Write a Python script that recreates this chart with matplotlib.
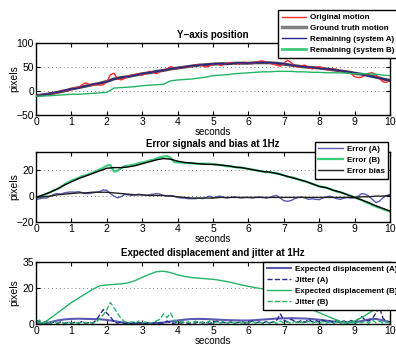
import numpy as np
import matplotlib
matplotlib.use("Agg")
import matplotlib.pyplot as plt

# -------- DATA --------
t_coarse = np.linspace(0, 10, 51)   # 0.2 s samples
t_fine = np.linspace(0, 10, 101)    # 0.1 s samples

# panel 1: Y-axis position
original_motion = [
    -9, -10, -9, -6, -5, -6, -4, 1, 1, 0,
    4, 7, 6, 13, 17, 14, 12, 13, 12, 13,
    19, 34, 37, 26, 23, 26, 31, 33, 34, 36,
    33, 36, 41, 39, 36, 40, 43, 46, 51, 48,
    47, 49, 51, 50, 52, 54, 55, 53, 50, 52,
    57, 58, 53, 55, 59, 58, 58, 56, 59, 60,
    58, 57, 59, 62, 63, 60, 58, 56, 54, 52,
    58, 64, 60, 52, 50, 53, 54, 49, 46, 49,
    51, 48, 45, 44, 46, 45, 41, 40, 41, 36,
    30, 28, 29, 33, 37, 38, 34, 26, 19, 18,
    22,
]
ground_truth = [
    -10, -8, -6, -3, 0, 4, 7, 10, 13, 16,
    20, 25, 28, 30, 33, 36, 38, 41, 43, 46,
    48, 50, 52, 54, 55, 56, 57, 57, 58, 58,
    58, 59, 59, 59, 58, 56, 54, 52, 50, 49,
    48, 46, 44, 42, 40, 37, 35, 32, 29, 25,
    22,
]
remaining_a = [
    -11, -8, -5, -3, 1, 4, 6, 10, 14, 16,
    19, 25, 28, 30, 33, 36, 39, 40, 43, 47,
    48, 50, 53, 54, 55, 57, 57, 56, 58, 59,
    58, 59, 60, 59, 58, 57, 54, 52, 51, 49,
    47, 46, 45, 42, 40, 38, 35, 31, 28, 25,
    21,
]
remaining_b = [
    -11, -10.5, -10, -9, -8, -7, -7, -6, -5, -4,
    -3, 6, 7, 8, 9, 11, 12, 13, 14, 21,
    23, 24, 25, 27, 29, 32, 33, 34, 36, 37,
    38, 39, 40, 40, 41, 41, 41, 40, 40, 39,
    39, 38, 38, 38, 37, 36, 36, 36, 35, 33,
    32,
]

# panel 2: error signals
error_a = [
    -2.7, -2, -1.5, -1.5, 0, 1.3, 2, 1.5, 2.5, 3,
    3.2, 3, 3.5, 2.7, 2, 2, 2.5, 3, 3.5, 4.8,
    4.5, 2, 0, -1.3, -0.5, 1.3, 1, 0.5, 1, 1.5,
    1, 0.5, 1, 1.5, 2, 1.5, 0.5, 0, 0.5, 0,
    -1, -1.5, -1.5, -2, -2, -2, -1.5, -2, -1, 0,
    -1.3, -0.5, 0, -1, -1.5, -1, -0.5, -1, -1.5, -1,
    -1, -1.5, -1, -0.5, -1, -1.5, -1, 0, 0.5, -1.5,
    -3.5, -4, -3.5, -2, -1, -0.5, -1.5, -2.5, -2, -2.5,
    -2.7, -1.5, -0.5, 0, -1, -2, -2.5, -1.5, -1, -1.5,
    -1.3, 0, 1.9, 1.5, 0, -2.5, -5, -4, -1.3, 0.5,
    1.3,
]
error_b = [
    -1.5, -0.5, 0.5, 1.8, 3, 4.5, 5.5, 7, 9, 10.5,
    12, 13, 14, 15.5, 16, 17, 18, 19.5, 20.5, 22,
    23.5, 24, 19, 19.5, 21.5, 23, 23.5, 24, 24.5, 25.5,
    26, 26.5, 27.5, 28, 29, 30, 30.5, 31, 29.5, 26.5,
    26, 26, 25.5, 25.5, 25.5, 25, 25, 25, 25, 25,
    24.5, 24.5, 24, 23.5, 23, 23, 22.5, 22, 22, 21.5,
    21, 20.5, 20, 19.5, 19, 18.5, 18.5, 18, 17.5, 17,
    16, 15, 14.5, 14, 13, 12, 11.5, 10.5, 9.5, 8.5,
    7.5, 7, 6.5, 5.5, 4.5, 3.5, 3, 2, 1, 0,
    -1, -2, -3, -4.5, -5.5, -7, -8, -9, -10, -11,
    -12,
]
bias_a = [
    -1, -0.5, 0, 1, 1.5, 2, 2.5, 2.5, 3, 3,
    3, 2.5, 2, 1.5, 1, 1, 0.5, 0.5, 0.5, 0,
    -0.5, -1, -1.5, -1.5, -1.5, -1.5, -1, -1, -1, -1,
    -1, -1, -1, -1, -1, -1, -1, -1, -1, -1,
    -1, -1, -1, -1, -1, -1, -0.5, -0.5, 0, 0,
    0.5,
]
bias_b = [
    -1, 1, 3, 5.5, 8.5, 11, 13.5, 15.5, 17.5, 19.5,
    21.5, 22, 22, 22.5, 23.5, 25, 26.5, 28, 29, 28.5,
    27, 26, 25.5, 25, 24.5, 24.5, 24, 23.5, 22.5, 22,
    21, 20, 19, 18.5, 17.5, 16, 14.5, 13, 11.5, 9.5,
    7.5, 6.5, 4.5, 3, 1, -1, -3, -5, -7.5, -9.5,
    -11.5,
]

# panel 3: expected displacement and jitter
exp_disp_a = [
    0.5, 0, 0.8, 1.8, 2.4, 2.7, 2.8, 2.7, 2.6, 2.5,
    2.1, 1.5, 0.8, 0.4, 0.1, 0, 0.1, 0.3, 0.6, 1.2,
    1.8, 2.3, 2.6, 2.7, 2.6, 2.4, 2.2, 2, 1.9, 1.8,
    1.8, 2, 2.3, 2.6, 2.9, 3, 3.1, 3, 2.9, 2.6,
    2.2, 1.7, 1.2, 0.9, 0.7, 0.8, 1.5, 2.4, 2.7, 1.8,
    0.7,
]
exp_disp_b = [
    1, 0, 3, 6, 9, 12, 14.5, 17, 19.5, 21.5,
    22, 22.3, 22.6, 23.2, 24.5, 26.3, 28, 29.5, 29.8, 29,
    27.7, 26.8, 26.2, 25.8, 25.5, 25.2, 24.6, 23.9, 23, 22,
    21.2, 20.4, 19.8, 18.5, 16.5, 14.8, 13, 11.3, 9.6, 7.9,
    6.2, 4.5, 2.8, 1.1, 0.2, 1.5, 3.5, 6, 8.5, 11.5,
    14,
]
jitter_a = [
    2, 1, 0.5, 1.5, 0.2, 0.8, 0.3, 1, 0.2, 0.6,
    0.2, 0.8, 0.3, 1.2, 0.2, 0.6, 0.3, 2, 5, 8,
    6, 4, 1, 0.3, 0.8, 0.2, 0.5, 0.2, 1, 0.3,
    0.5, 0.2, 0.6, 0.2, 1, 0.3, 0.5, 1.5, 0.5, 0.2,
    0.8, 0.3, 1, 0.2, 0.6, 0.3, 1.2, 0.3, 0.8, 0.2,
    0.6, 1.5, 0.3, 0.8, 0.2, 1, 0.3, 0.6, 1.2, 0.3,
    0.8, 1.5, 0.4, 1, 0.3, 1.2, 0.5, 1, 2, 5.5,
    2, 1, 2.5, 1.5, 0.8, 1.8, 0.8, 2.5, 1, 1.8,
    0.8, 2, 1, 1.5, 0.5, 2, 1, 1.5, 0.6, 1.8,
    1, 2.5, 4, 2, 1.5, 3, 6, 9.5, 3, 1.5,
    1,
]
jitter_b = [
    1, 2, 0.3, 1, 0.2, 1.5, 0.2, 0.8, 0.2, 1.2,
    0.2, 0.6, 0.3, 1, 0.2, 0.8, 0.3, 1, 3, 5,
    8, 12, 9, 6, 3, 1, 0.3, 1, 0.3, 1.5,
    0.3, 1, 0.2, 0.6, 1.5, 2.5, 5.5, 3.5, 6, 2,
    0.5, 1.5, 0.3, 1, 0.2, 1.5, 0.3, 1, 0.2, 1.5,
    0.3, 1, 0.3, 1.5, 0.3, 1, 0.2, 1.2, 0.3, 1,
    0.3, 1.5, 0.3, 1, 0.2, 1.2, 0.3, 1, 0.3, 1.5,
    0.3, 1, 0.2, 1.2, 0.3, 1, 0.3, 1.5, 0.3, 1,
    0.2, 1.2, 0.3, 1, 0.2, 1.2, 0.3, 1, 0.2, 1.5,
    0.3, 1, 0.5, 1.5, 0.3, 2, 0.5, 1.5, 0.3, 1,
    0.5,
]
# -----------------------

plt.rcParams["font.family"] = ["Liberation Sans", "DejaVu Sans"]
plt.rcParams["font.size"] = 7.5

RED = "#ff2a2a"
GRAY = "#4a4a4a"
NAVY = "#26268c"
GREEN = "#22b566"
LBLUE = "#5a5ab4"
LGREEN = "#3ccc7a"

LEG_KW = dict(loc="upper left", prop={"weight": "bold", "size": 5.8}, fancybox=False,
              framealpha=1, edgecolor="black", borderpad=0.45, labelspacing=0.4,
              handlelength=3.0, handletextpad=0.5, borderaxespad=0)


def style_axes(ax, yticks, ylim, title):
    ax.set_xlim(0, 10)
    ax.set_ylim(*ylim)
    ax.set_xticks(range(11))
    ax.set_yticks(yticks)
    ax.tick_params(direction="in", top=True, right=True, length=3, width=0.8, pad=1.5, labelsize=7.5)
    for s in ax.spines.values():
        s.set_linewidth(1.0)
    ax.yaxis.grid(True, linestyle=(0, (1, 3)), color="#888888", linewidth=0.7)
    ax.set_axisbelow(True)
    ax.set_title(title, fontweight="bold", fontsize=7, pad=4)
    ax.set_xlabel("seconds", fontsize=7, labelpad=0)
    ax.set_ylabel("pixels", fontsize=7.5)
    ax.yaxis.set_label_coords(-0.048, 0.5)


def finish_legend(leg):
    leg.get_frame().set_linewidth(1.0)
    leg.set_zorder(10)
    return leg


fig = plt.figure(figsize=(3.96, 3.48), dpi=100)
ax1 = fig.add_axes([0.091, 0.670, 0.894, 0.206])
ax2 = fig.add_axes([0.091, 0.362, 0.894, 0.201])
ax3 = fig.add_axes([0.091, 0.070, 0.894, 0.177])

# panel 1
ax1.plot(t_coarse, ground_truth, color=GRAY, lw=2.2, label="Ground truth motion", zorder=2)
ax1.plot(t_fine, original_motion, color=RED, lw=1.0, label="Original motion", zorder=3)
ax1.plot(t_coarse, remaining_a, color=NAVY, lw=1.0, label="Remaining (system A)", zorder=4)
ax1.plot(t_coarse, remaining_b, color=GREEN, lw=1.0, label="Remaining (system B)", zorder=4)
style_axes(ax1, [-50, 0, 50, 100], (-50, 100), "Y\u2212axis position")
h, lab = ax1.get_legend_handles_labels()
order = [1, 0, 2, 3]
l1 = finish_legend(ax1.legend([h[i] for i in order], [lab[i] for i in order],
                              bbox_to_anchor=(0.702, 0.971), bbox_transform=fig.transFigure,
                              **LEG_KW))
l1.get_lines()[1].set_color("#808080")
l1.get_lines()[1].set_linewidth(2.5)
l1.get_lines()[3].set_color(LGREEN)
l1.get_lines()[3].set_linewidth(2.0)

# panel 2
ax2.plot(t_fine, error_a, color=LBLUE, lw=1.0, label="Error (A)")
ax2.plot(t_fine, error_b, color=LGREEN, lw=1.6, label="Error (B)")
ax2.plot(t_coarse, bias_a, color="#222222", lw=1.0, label="Error bias")
ax2.plot(t_coarse, bias_b, color="black", lw=1.0)
style_axes(ax2, [-20, 0, 20], (-20, 34), "Error signals and bias at 1Hz")
finish_legend(ax2.legend(bbox_to_anchor=(0.795, 0.592), bbox_transform=fig.transFigure, **LEG_KW))

# panel 3
ax3.plot(t_coarse, exp_disp_a, color=LBLUE, lw=1.5, label="Expected displacement (A)")
ax3.plot(t_fine, jitter_a, color=NAVY, lw=1.0, ls="--", label="Jitter (A)")
ax3.plot(t_coarse, exp_disp_b, color=GREEN, lw=1.0, label="Expected displacement (B)")
ax3.plot(t_fine, jitter_b, color=GREEN, lw=1.0, ls="--", label="Jitter (B)")
style_axes(ax3, [0, 20, 35], (0, 35), "Expected displacement and jitter at 1Hz")
finish_legend(ax3.legend(bbox_to_anchor=(0.664, 0.247), bbox_transform=fig.transFigure, **LEG_KW))

fig.savefig("out.png", dpi=100)
